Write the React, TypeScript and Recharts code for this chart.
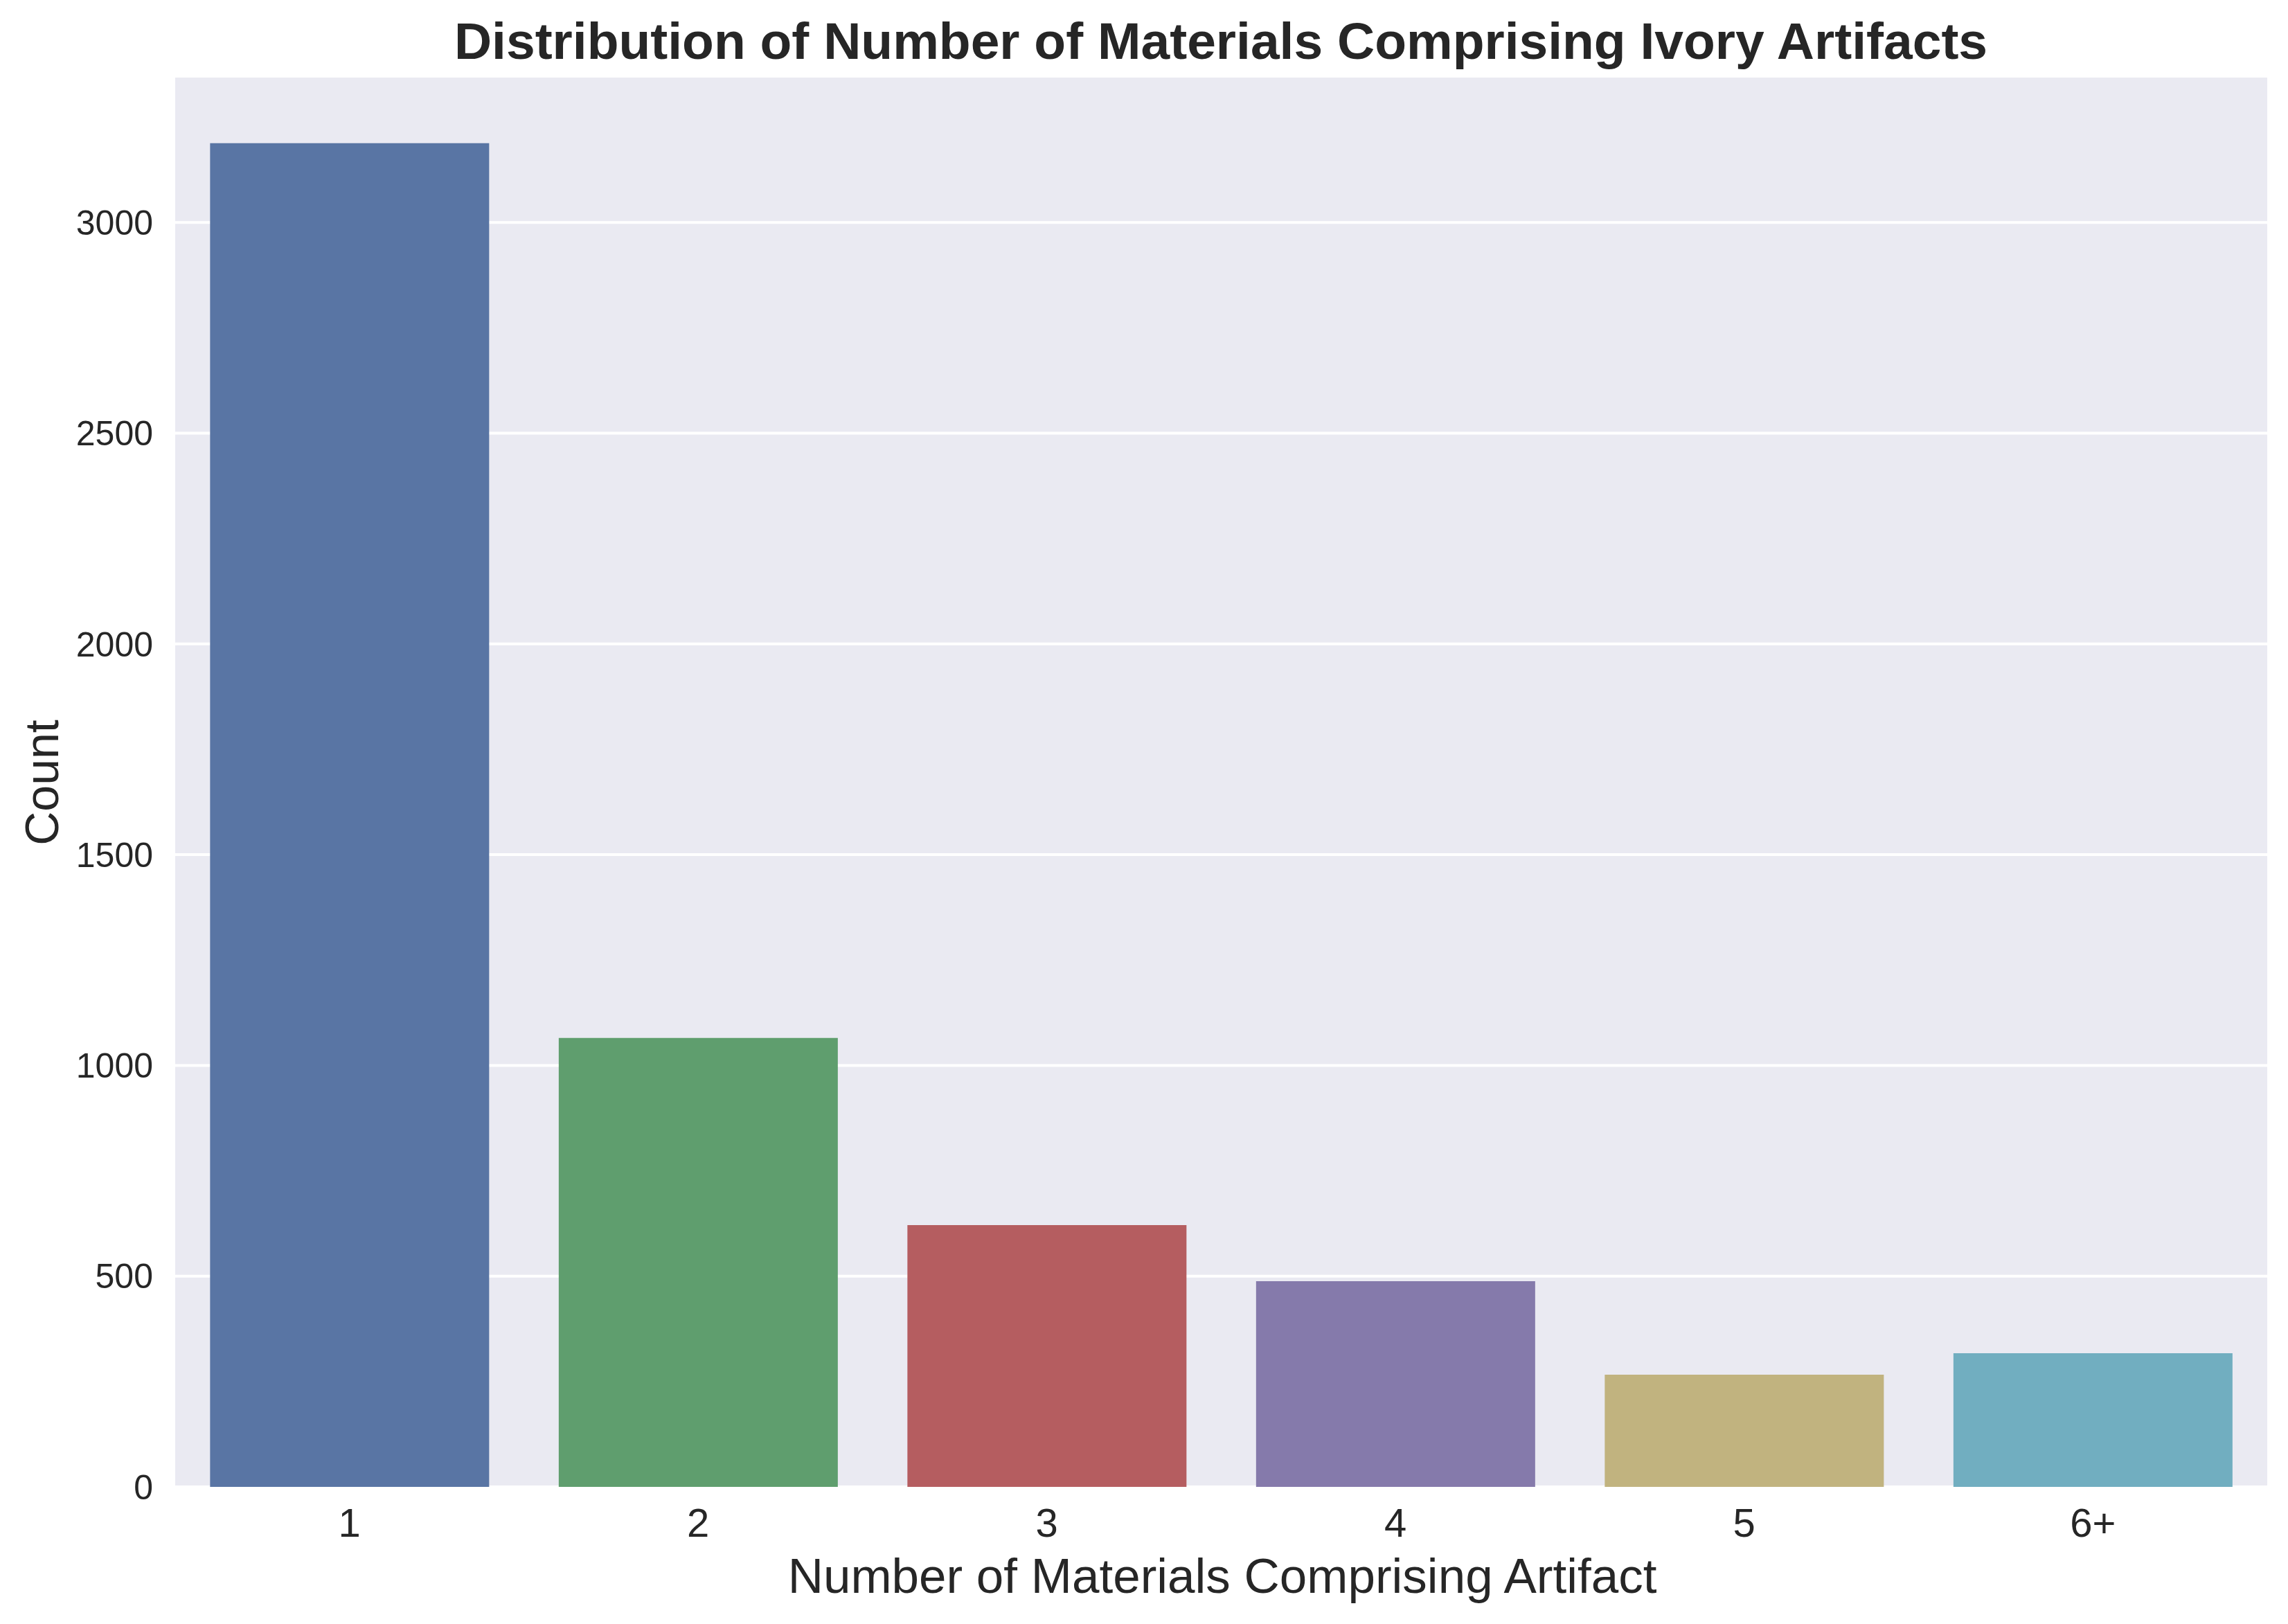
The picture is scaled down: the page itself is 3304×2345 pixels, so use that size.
import { BarChart, Bar, XAxis, YAxis, CartesianGrid, Cell } from 'recharts'

// values
const categories = ['1', '2', '3', '4', '5', '6+']
const counts = [3188, 1065, 621, 488, 266, 317]
const yTicks = [0, 500, 1000, 1500, 2000, 2500, 3000]
const barColors = ['#5975a4', '#5f9e6e', '#b55d60', '#857aab', '#c1b37f', '#71aec0']

const FONT = '"Liberation Sans", Arial, sans-serif'
const INK = '#262626'

const W = 3304
const H = 2345

export default function App() {
  const data = categories.map((c, i) => ({ category: c, value: counts[i] }))

  return (
    <div style={{ position: 'absolute', left: 0, top: 0, width: W, height: H, background: '#fff' }}>
      <BarChart
        width={W}
        height={H}
        data={data}
        margin={{ top: 110, right: 30, bottom: 0, left: 0 }}
        barCategoryGap="10%"
      >
        <CartesianGrid
          vertical={false}
          fill="#eaeaf2"
          fillOpacity={1}
          stroke="#ffffff"
          strokeWidth={4}
        />
        <XAxis
          dataKey="category"
          height={198}
          axisLine={false}
          tickLine={false}
          tickSize={0}
          tickMargin={31}
          interval={0}
          tick={{ fontFamily: FONT, fontSize: 58, fill: INK }}
        />
        <YAxis
          type="number"
          domain={[0, 3347]}
          ticks={yTicks}
          width={253}
          axisLine={false}
          tickLine={false}
          tickSize={0}
          tickMargin={32}
          tick={{ fontFamily: FONT, fontSize: 50, fill: INK }}
        />
        <Bar dataKey="value" isAnimationActive={false}>
          {data.map((d, i) => (
            <Cell key={d.category} fill={barColors[i]} />
          ))}
        </Bar>
      </BarChart>

      <svg
        width={W}
        height={H}
        style={{ position: 'absolute', left: 0, top: 0, pointerEvents: 'none' }}
      >
        <text x={1763} y={85} textAnchor="middle" fontFamily={FONT} fontSize={75} fontWeight="bold" fill={INK}>
          Distribution of Number of Materials Comprising Ivory Artifacts
        </text>
        <text x={1765} y={2300} textAnchor="middle" fontFamily={FONT} fontSize={71} fill={INK}>
          Number of Materials Comprising Artifact
        </text>
        <text
          transform="translate(84, 1130) rotate(-90)"
          textAnchor="middle"
          fontFamily={FONT}
          fontSize={68}
          fill={INK}
        >
          Count
        </text>
      </svg>
    </div>
  )
}
